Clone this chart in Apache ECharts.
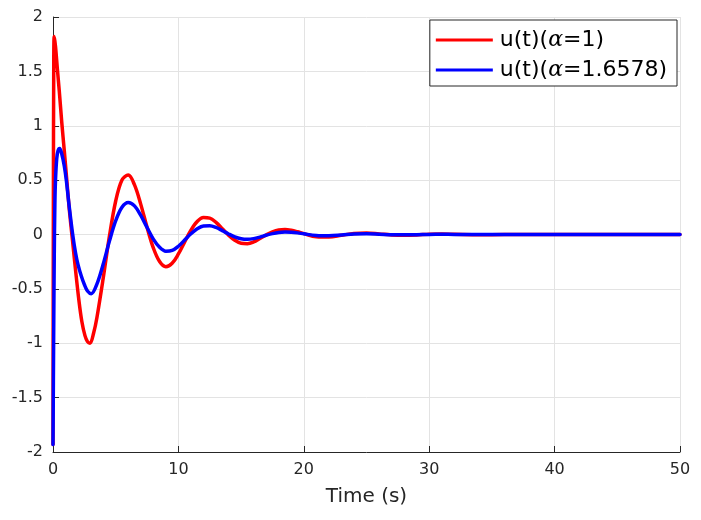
<!DOCTYPE html>
<html>
<head>
<meta charset="utf-8">
<script src="https://cdn.jsdelivr.net/npm/echarts@6/dist/echarts.min.js"></script>
<style>
html,body{margin:0;padding:0;background:#fff;}
#chart{width:701px;height:520px;}
</style>
</head>
<body>
<div id="chart"></div>
<script>
// Series names
const seriesNames = ['u(t)(α=1)', 'u(t)(α=1.6578)'];

// u(t), alpha = 1 (red)
const tRed = [0, 0.03, 0.06, 0.1, 0.2, 0.35, 0.5, 0.7, 0.9, 1.1, 1.3, 1.55, 1.8, 2.07, 2.3, 2.55, 2.75, 2.95, 3.25, 3.5,
  4, 4.5, 5, 5.5, 6, 6.5, 7, 7.5, 8, 8.5, 9, 9.5, 10, 10.5, 11, 11.5, 12, 12.5, 13, 13.5, 14, 14.5, 15, 15.5,
  16, 16.5, 17, 17.5, 18, 18.5, 19, 19.5, 20, 21, 22, 23, 24, 25, 26, 27, 28, 29, 30, 31, 32, 34, 36, 38, 40, 42, 44, 46, 48, 50];
const uRed = [-1.93, 0.3, 1.6, 1.82, 1.73, 1.52, 1.32, 1.03, 0.77, 0.5, 0.23, -0.05, -0.33, -0.61, -0.8, -0.93, -0.985, -1.0, -0.901, -0.765,
  -0.405, -0.015, 0.308, 0.502, 0.546, 0.456, 0.277, 0.066, -0.123, -0.249, -0.296, -0.265, -0.179, -0.068, 0.040, 0.119, 0.156, 0.151, 0.112, 0.054, -0.006, -0.053, -0.081, -0.084,
  -0.068, -0.036, -0.004, 0.023, 0.041, 0.046, 0.039, 0.025, 0.008, -0.020, -0.023, -0.007, 0.009, 0.013, 0.005, -0.004, -0.007, -0.004, 0.002, 0.004, 0.002, -0.002, 0, 0.001, 0, 0, 0, 0, 0, 0];

// u(t), alpha = 1.6578 (blue)
const tBlue = [0, 0.05, 0.1, 0.15, 0.2, 0.3, 0.4, 0.53, 0.7, 0.9, 1.06, 1.3, 1.57, 1.8, 2, 2.25, 2.5, 2.75, 3.05, 3.5,
  4, 4.5, 5, 5.5, 6, 6.5, 7, 7.5, 8, 8.5, 9, 9.5, 10, 10.5, 11, 11.5, 12, 12.5, 13, 13.5, 14, 14.5, 15, 15.5,
  16, 16.5, 17, 17.5, 18, 18.5, 19, 19.5, 20, 21, 22, 23, 24, 25, 26, 27, 28, 29, 30, 31, 32, 34, 36, 38, 40, 42, 44, 46, 48, 50];
const uBlue = [-1.93, -1.0, -0.2, 0.28, 0.5, 0.7, 0.77, 0.79, 0.74, 0.63, 0.5, 0.25, 0.0, -0.17, -0.28, -0.38, -0.46, -0.52, -0.545, -0.457,
  -0.274, -0.061, 0.127, 0.251, 0.295, 0.263, 0.176, 0.064, -0.042, -0.118, -0.154, -0.147, -0.108, -0.051, 0.007, 0.053, 0.079, 0.081, 0.065, 0.036, 0.005, -0.022, -0.039, -0.044,
  -0.038, -0.024, -0.007, 0.008, 0.019, 0.023, 0.021, 0.015, 0.006, -0.009, -0.012, -0.005, 0.004, 0.007, 0.003, -0.002, -0.003, -0.002, 0.001, 0.002, 0.001, -0.001, 0, 0, 0, 0, 0, 0, 0, 0];

// Axis settings
const xTicks = {min: 0, max: 50, interval: 10};
const yTicks = {min: -2, max: 2, interval: 0.5};
const xName = 'Time (s)';

const pairs = (ts, us) => ts.map((t, i) => [t, us[i]]);
const axisColor = '#262626';
const gridColor = '#e3e3e3';
const font = 'DejaVu Sans';

const chart = echarts.init(document.getElementById('chart'), null, {renderer: 'canvas'});
chart.setOption({
  animation: false,
  backgroundColor: '#fff',
  grid: {left: 53, right: 21, top: 17, bottom: 68, containLabel: false},
  xAxis: {
    type: 'value', min: xTicks.min, max: xTicks.max, interval: xTicks.interval,
    name: xName, nameLocation: 'middle', nameGap: 35,
    nameTextStyle: {fontFamily: font, fontSize: 20, color: axisColor},
    axisLine: {show: true, onZero: false, lineStyle: {color: axisColor, width: 1}},
    axisTick: {show: true, inside: true, length: 6, lineStyle: {color: axisColor}},
    axisLabel: {fontFamily: font, fontSize: 16, color: axisColor, margin: 10},
    splitLine: {show: true, lineStyle: {color: gridColor, width: 1}}
  },
  yAxis: {
    type: 'value', min: yTicks.min, max: yTicks.max, interval: yTicks.interval,
    axisLine: {show: true, onZero: false, lineStyle: {color: axisColor, width: 1}},
    axisTick: {show: true, inside: true, length: 6, lineStyle: {color: axisColor}},
    axisLabel: {fontFamily: font, fontSize: 16, color: axisColor, margin: 10},
    splitLine: {show: true, lineStyle: {color: gridColor, width: 1}}
  },
  legend: {
    show: true,
    orient: 'vertical',
    right: 24, top: 20,
    icon: 'rect', itemWidth: 57, itemHeight: 3, itemGap: 8,
    padding: [9, 10, 5, 6],
    backgroundColor: '#fff',
    borderColor: axisColor, borderWidth: 1,
    selectedMode: false,
    formatter: name => name.replace('α', '{a|α}'),
    textStyle: {
      fontFamily: font, fontSize: 22, color: '#000', padding: [0, 0, 0, 2],
      rich: {a: {fontFamily: 'DejaVu Serif', fontStyle: 'italic', fontSize: 22, color: '#000'}}
    },
    data: seriesNames
  },
  series: [
    {
      name: seriesNames[0], type: 'line', data: pairs(tRed, uRed),
      showSymbol: false, symbol: 'none', smooth: 0.35,
      lineStyle: {color: '#ff0000', width: 3.5, join: 'round', cap: 'round'}, itemStyle: {color: '#ff0000'}, z: 2
    },
    {
      name: seriesNames[1], type: 'line', data: pairs(tBlue, uBlue),
      showSymbol: false, symbol: 'none', smooth: 0.35,
      lineStyle: {color: '#0000ff', width: 3.5, join: 'round', cap: 'round'}, itemStyle: {color: '#0000ff'}, z: 3
    }
  ]
});
</script>
</body>
</html>
